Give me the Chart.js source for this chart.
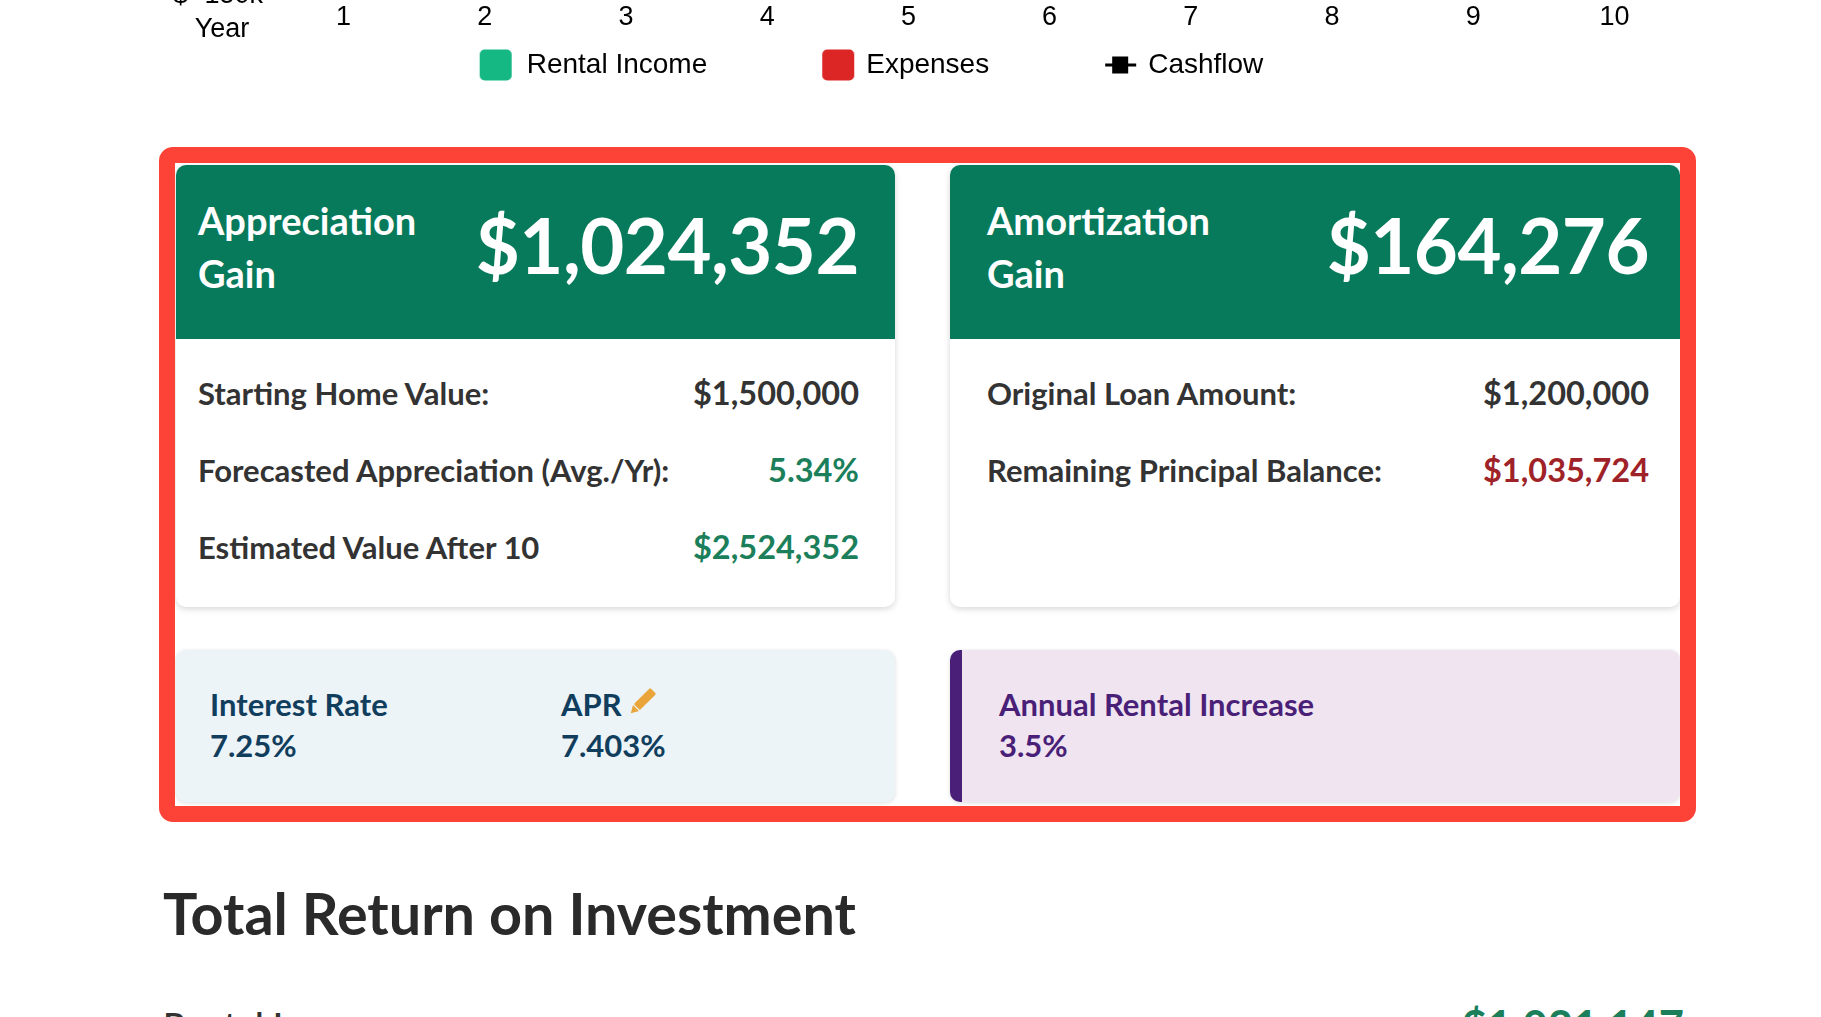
<!DOCTYPE html>
<html>
<head>
<meta charset="utf-8">
<script src="https://cdn.jsdelivr.net/npm/chart.js@4.4.1/dist/chart.umd.min.js"></script>
<style>
  html, body { margin: 0; padding: 0; background: #fff; overflow: hidden; }
  body { width: 1821px; height: 1017px; position: relative; font-family: "Lato", sans-serif; color: #333; }
  #chartBox { position: absolute; left: -54px; top: -611px; width: 1749px; height: 700px; }
  .frame { position: absolute; left: 159px; top: 147px; width: 1537px; height: 675px; box-sizing: border-box;
           border: 16px solid #fd4337; border-radius: 14px; z-index: 5; pointer-events: none; }
  .card { position: absolute; background: #fff; border-radius: 10px; overflow: hidden;
          box-shadow: 0 2px 6px rgba(0,0,0,0.16); }
  .head { height: 174px; background: #087a5c; color: #fff; display: flex; align-items: center; justify-content: space-between;
          box-sizing: border-box; padding-bottom: 10px; }
  .head .ttl { font-size: 38px; font-weight: 700; line-height: 53px; }
  .head .num { font-size: 76px; font-weight: 700; letter-spacing: -0.5px; position: relative; top: -3px; }
  .rows { padding-top: 15px; }
  .row { height: 77px; display: flex; align-items: center; justify-content: space-between; font-size: 31px; font-weight: 700; color: #333; }
  .row span + span { font-size: 32.5px; }
  .green { color: #1c7f5b; }
  .red { color: #9e2227; }
  .info { position: absolute; top: 650px; height: 152px; border-radius: 10px; box-shadow: 0 1px 4px rgba(0,0,0,0.14);
          font-size: 31px; font-weight: 700; line-height: 41px; box-sizing: border-box; }
  .info .col { position: absolute; top: 34px; }
  h2 { position: absolute; left: 163px; top: 878px; margin: 0; font-size: 57.5px; line-height: 70px; font-weight: 700; color: #2a2a2a; }
  .roi { position: absolute; left: 163px; top: 1005px; width: 1521px; display: flex; justify-content: space-between;
         font-size: 36px; line-height: 40px; font-weight: 600; color: #333; }
</style>
</head>
<body>
<div id="chartBox"><canvas id="cashChart"></canvas></div>

<div class="frame"></div>

<div class="card" style="left:176px; top:165px; width:719px; height:442px;">
  <div class="head" style="padding-left:22px; padding-right:36px;">
    <div class="ttl">Appreciation<br>Gain</div>
    <div class="num">$1,024,352</div>
  </div>
  <div class="rows" style="padding-left:22px; padding-right:36px;">
    <div class="row"><span>Starting Home Value:</span><span>$1,500,000</span></div>
    <div class="row"><span>Forecasted Appreciation (Avg./Yr):</span><span class="green">5.34%</span></div>
    <div class="row"><span>Estimated Value After 10</span><span class="green">$2,524,352</span></div>
  </div>
</div>

<div class="card" style="left:950px; top:165px; width:730px; height:442px;">
  <div class="head" style="padding-left:37px; padding-right:31px;">
    <div class="ttl">Amortization<br>Gain</div>
    <div class="num">$164,276</div>
  </div>
  <div class="rows" style="padding-left:37px; padding-right:31px;">
    <div class="row"><span>Original Loan Amount:</span><span>$1,200,000</span></div>
    <div class="row"><span>Remaining Principal Balance:</span><span class="red">$1,035,724</span></div>
  </div>
</div>

<div class="info" style="left:176px; width:719px; background:#ecf4f8; color:#123e5e;">
  <div class="col" style="left:34px;">Interest Rate<br>7.25%</div>
  <div class="col" style="left:385px;">APR
    <svg width="34" height="34" viewBox="0 0 28 28" style="vertical-align:-3px; margin-left:-4px;">
      <g transform="rotate(45 14 14)">
        <rect x="10.5" y="1" width="7" height="19" rx="1" fill="#e9a43a"/>
        <polygon points="10.5,21 17.5,21 14,27" fill="#e9a43a"/>
      </g>
    </svg><br>7.403%</div>
</div>

<div class="info" style="left:950px; width:730px; background:#f1e4f1; color:#4a1f78; border-left:12px solid #4a1f78;">
  <div class="col" style="left:37px;">Annual Rental Increase<br>3.5%</div>
</div>

<h2>Total Return on Investment</h2>
<div class="roi"><span>Rental Income</span><span class="green" style="font-weight:700; font-size:43.5px;">$1,021,147</span></div>

<script>
const years = ["1", "2", "3", "4", "5", "6", "7", "8", "9", "10"];
const rentalIncome = [90000, 93150, 96410, 99780, 103270, 106890, 110630, 114500, 118510, 122660];
const expenses = [-128000, -128900, -129800, -130700, -131700, -132600, -133600, -134600, -135600, -136700];
const cashflow = [-38000, -35750, -33390, -30920, -28430, -25710, -22970, -20100, -17090, -14040];
const yMin = -150000;
const yMax = 150000;

// legend icons, drawn near the right end of a wide slot so the items get their spacing
const makeIcon = (draw) => {
  const c = document.createElement("canvas");
  c.width = 145;
  c.height = 32;
  draw(c.getContext("2d"));
  return c;
};

const boxIcon = (color, x) =>
  makeIcon((ctx) => {
    ctx.fillStyle = color;
    ctx.beginPath();
    ctx.roundRect(x, 0.5, 32, 31, 5);
    ctx.fill();
  });

const lineIcon = makeIcon((ctx) => {
  ctx.fillStyle = "#000";
  ctx.fillRect(111, 14.5, 31, 3);
  ctx.fillRect(118, 7.5, 16, 17);
});

const legendIcons = [boxIcon("#15b883", 107), boxIcon("#dc2626", 110), lineIcon];

const yearLabel = {
  id: "yearLabel",
  afterDraw(chart) {
    const { ctx, chartArea, scales } = chart;
    ctx.save();
    ctx.font = "27px 'Liberation Sans'";
    ctx.fillStyle = "#000";
    ctx.textAlign = "center";
    ctx.textBaseline = "middle";
    ctx.fillText("Year", chartArea.left - 51, scales.x.top + 34);
    ctx.restore();
  },
};

const ctx = document.getElementById("cashChart").getContext("2d");

const cashChart = new Chart(ctx, {
  type: "bar",
  data: {
    labels: years,
    datasets: [
      {
        label: "Rental Income",
        data: rentalIncome,
        backgroundColor: "#15b883",
        borderRadius: 5,
        order: 2,
      },
      {
        label: "Expenses",
        data: expenses,
        backgroundColor: "#dc2626",
        borderRadius: 5,
        order: 3,
      },
      {
        type: "line",
        label: "Cashflow",
        data: cashflow,
        borderColor: "#000",
        backgroundColor: "#000",
        borderWidth: 3,
        pointStyle: "rect",
        pointRadius: 7,
        order: 1,
      },
    ],
  },
  options: {
    responsive: true,
    maintainAspectRatio: false,
    animation: false,
    layout: { padding: 0 },
    plugins: {
      tooltip: { enabled: false },
      legend: {
        position: "bottom",
        labels: {
          usePointStyle: true,
          pointStyleWidth: 135,
          padding: 10,
          color: "#000",
          font: { family: "'Liberation Sans'", size: 28 },
          generateLabels: (chart) =>
            Chart.defaults.plugins.legend.labels
              .generateLabels(chart)
              .sort((a, b) => a.datasetIndex - b.datasetIndex)
              .map((item) => ({ ...item, pointStyle: legendIcons[item.datasetIndex] })),
        },
      },
    },
    scales: {
      x: {
        grid: { display: false, drawTicks: false },
        border: { display: false },
        ticks: { padding: 6, color: "#000", font: { family: "'Liberation Sans'", size: 27 } },
        afterFit: (scale) => {
          scale.height += 1;
        },
      },
      y: {
        min: yMin,
        max: yMax,
        grid: { display: false, drawTicks: false },
        border: { display: false },
        ticks: {
          stepSize: 50000,
          padding: 10,
          color: "#000",
          font: { family: "'Liberation Sans'", size: 27 },
          callback: (v) => "$ " + v / 1000 + "k",
        },
        afterFit: (scale) => {
          scale.width = 327;
        },
      },
    },
  },
  plugins: [yearLabel],
});
</script>
</body>
</html>
